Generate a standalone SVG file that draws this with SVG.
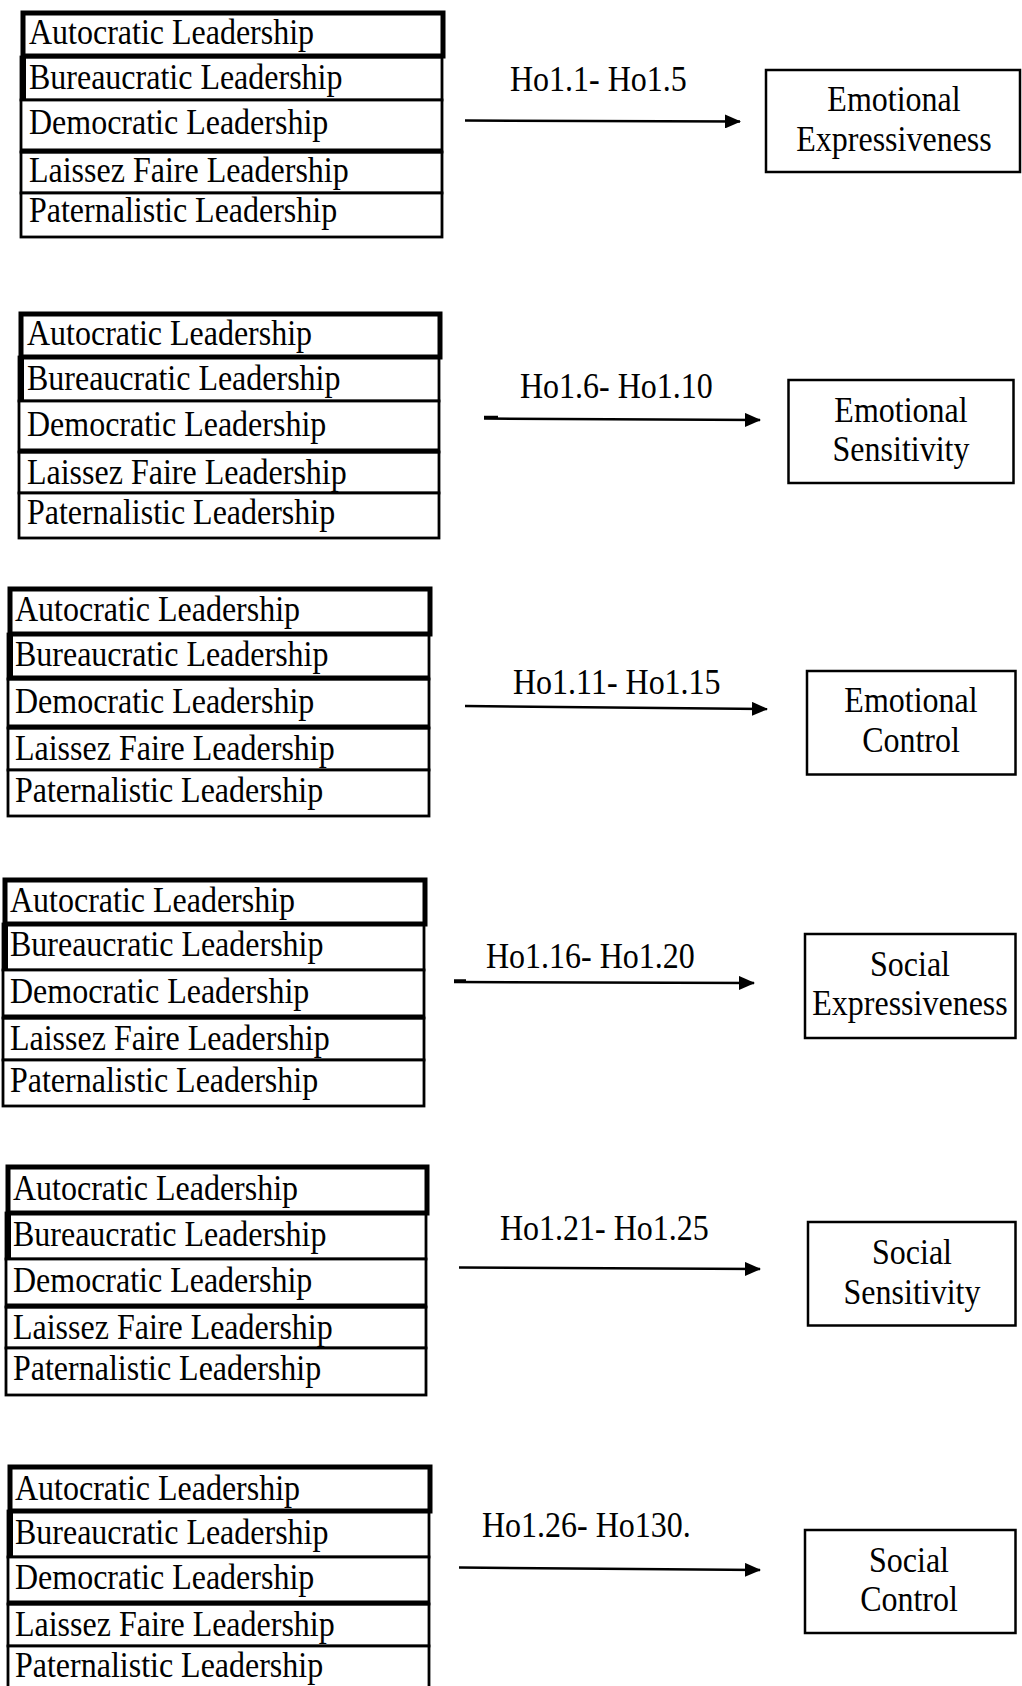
<svg xmlns="http://www.w3.org/2000/svg" width="1022" height="1686" viewBox="0 0 1022 1686">
<style>
.t{font-family:"Liberation Serif","Times New Roman",serif;font-size:32px;fill:#000}
.m{text-anchor:middle}
.row{fill:#fff;stroke:#000;stroke-width:2.8}
.r1{fill:none;stroke:#000;stroke-width:5}
.thk{stroke:#000;stroke-width:5;fill:none}
.box{fill:#fff;stroke:#000;stroke-width:2.5}
.arr{stroke:#000;stroke-width:2.5;fill:none;marker-end:url(#ah)}
</style>
<defs>
<marker id="ah" markerUnits="userSpaceOnUse" markerWidth="16" markerHeight="14" refX="15" refY="7" orient="auto">
<path d="M0,0 L16,7 L0,14 Z" fill="#000"/>
</marker>
</defs>
<rect width="1022" height="1686" fill="#fff"/>

<g id="connectors">
<line class="arr" x1="465" y1="120.5" x2="740" y2="121.5"/>
<line x1="484" y1="417" x2="498" y2="417" stroke="#000" stroke-width="2.5"/>
<line class="arr" x1="484" y1="418.5" x2="760" y2="420"/>
<line class="arr" x1="465" y1="706" x2="767" y2="709"/>
<line x1="454" y1="980.5" x2="466" y2="980.5" stroke="#000" stroke-width="2.5"/>
<line class="arr" x1="454" y1="982" x2="754" y2="983"/>
<line class="arr" x1="459" y1="1267.5" x2="760" y2="1269"/>
<line class="arr" x1="459" y1="1567.5" x2="760" y2="1570"/>
</g>

<g id="leaders1">
<rect class="row" x="21" y="57" width="421" height="43"/>
<rect class="row" x="21" y="100" width="421" height="52"/>
<rect class="row" x="21" y="152" width="421" height="41"/>
<rect class="row" x="21" y="193" width="421" height="44"/>
<rect class="r1" x="23" y="13" width="420" height="43"/>
<line class="thk" x1="23.5" y1="56" x2="23.5" y2="101"/>
<line class="thk" x1="21" y1="151" x2="442" y2="151"/>
<text class="t" transform="translate(29,44) scale(1,1.15)">Autocratic Leadership</text>
<text class="t" transform="translate(29,89) scale(1,1.15)">Bureaucratic Leadership</text>
<text class="t" transform="translate(29,134) scale(1,1.15)">Democratic Leadership</text>
<text class="t" transform="translate(29,182) scale(1,1.15)">Laissez Faire Leadership</text>
<text class="t" transform="translate(29,222) scale(1,1.15)">Paternalistic Leadership</text>
</g>
<g id="label1"><text class="t" transform="translate(510,91) scale(1,1.15)">Ho1.1- Ho1.5</text></g>
<g id="outcome1">
<rect class="box" x="766" y="70" width="254" height="102"/>
<text class="t m" transform="translate(894,111) scale(1,1.15)">Emotional</text>
<text class="t m" transform="translate(894,151) scale(1,1.15)">Expressiveness</text>
</g>

<g id="leaders2">
<rect class="row" x="19" y="357" width="420" height="44"/>
<rect class="row" x="19" y="401" width="420" height="51"/>
<rect class="row" x="19" y="452" width="420" height="41"/>
<rect class="row" x="19" y="493" width="420" height="45"/>
<rect class="r1" x="21" y="314" width="419" height="43"/>
<line class="thk" x1="21.5" y1="356" x2="21.5" y2="402"/>
<line class="thk" x1="19" y1="451" x2="439" y2="451"/>
<text class="t" transform="translate(27,345) scale(1,1.15)">Autocratic Leadership</text>
<text class="t" transform="translate(27,390) scale(1,1.15)">Bureaucratic Leadership</text>
<text class="t" transform="translate(27,436) scale(1,1.15)">Democratic Leadership</text>
<text class="t" transform="translate(27,484) scale(1,1.15)">Laissez Faire Leadership</text>
<text class="t" transform="translate(27,524) scale(1,1.15)">Paternalistic Leadership</text>
</g>
<g id="label2"><text class="t" transform="translate(520,398) scale(1,1.15)">Ho1.6- Ho1.10</text></g>
<g id="outcome2">
<rect class="box" x="788.5" y="380" width="225" height="103"/>
<text class="t m" transform="translate(901,422) scale(1,1.15)">Emotional</text>
<text class="t m" transform="translate(901,461) scale(1,1.15)">Sensitivity</text>
</g>

<g id="leaders3">
<rect class="row" x="8" y="634" width="421" height="45"/>
<rect class="row" x="8" y="679" width="421" height="49"/>
<rect class="row" x="8" y="728" width="421" height="42"/>
<rect class="row" x="8" y="770" width="421" height="46"/>
<rect class="r1" x="10" y="589" width="420" height="45"/>
<line class="thk" x1="10.5" y1="633" x2="10.5" y2="680"/>
<line class="thk" x1="8" y1="678" x2="429" y2="678"/>
<line class="thk" x1="8" y1="727" x2="429" y2="727"/>
<text class="t" transform="translate(15,621) scale(1,1.15)">Autocratic Leadership</text>
<text class="t" transform="translate(15,666) scale(1,1.15)">Bureaucratic Leadership</text>
<text class="t" transform="translate(15,713) scale(1,1.15)">Democratic Leadership</text>
<text class="t" transform="translate(15,760) scale(1,1.15)">Laissez Faire Leadership</text>
<text class="t" transform="translate(15,802) scale(1,1.15)">Paternalistic Leadership</text>
</g>
<g id="label3"><text class="t" transform="translate(513,694) scale(1,1.15)">Ho1.11- Ho1.15</text></g>
<g id="outcome3">
<rect class="box" x="807" y="671" width="208.5" height="103.5"/>
<text class="t m" transform="translate(911,712) scale(1,1.15)">Emotional</text>
<text class="t m" transform="translate(911,752) scale(1,1.15)">Control</text>
</g>

<g id="leaders4">
<rect class="row" x="3" y="924" width="421" height="46"/>
<rect class="row" x="3" y="970" width="421" height="48"/>
<rect class="row" x="3" y="1018" width="421" height="42"/>
<rect class="row" x="3" y="1060" width="421" height="46"/>
<rect class="r1" x="5" y="880" width="420" height="44"/>
<line class="thk" x1="5.5" y1="923" x2="5.5" y2="971"/>
<line class="thk" x1="3" y1="1017" x2="424" y2="1017"/>
<text class="t" transform="translate(10,912) scale(1,1.15)">Autocratic Leadership</text>
<text class="t" transform="translate(10,956) scale(1,1.15)">Bureaucratic Leadership</text>
<text class="t" transform="translate(10,1003) scale(1,1.15)">Democratic Leadership</text>
<text class="t" transform="translate(10,1050) scale(1,1.15)">Laissez Faire Leadership</text>
<text class="t" transform="translate(10,1092) scale(1,1.15)">Paternalistic Leadership</text>
</g>
<g id="label4"><text class="t" transform="translate(486,968) scale(1,1.15)">Ho1.16- Ho1.20</text></g>
<g id="outcome4">
<rect class="box" x="805" y="934" width="210.5" height="104"/>
<text class="t m" transform="translate(910,976) scale(1,1.15)">Social</text>
<text class="t m" transform="translate(910,1015) scale(1,1.15)">Expressiveness</text>
</g>

<g id="leaders5">
<rect class="row" x="6" y="1213" width="420" height="46"/>
<rect class="row" x="6" y="1259" width="420" height="48"/>
<rect class="row" x="6" y="1307" width="420" height="41"/>
<rect class="row" x="6" y="1348" width="420" height="47"/>
<rect class="r1" x="8" y="1167" width="419" height="46"/>
<line class="thk" x1="8.5" y1="1212" x2="8.5" y2="1260"/>
<line class="thk" x1="6" y1="1306" x2="426" y2="1306"/>
<text class="t" transform="translate(13,1200) scale(1,1.15)">Autocratic Leadership</text>
<text class="t" transform="translate(13,1246) scale(1,1.15)">Bureaucratic Leadership</text>
<text class="t" transform="translate(13,1292) scale(1,1.15)">Democratic Leadership</text>
<text class="t" transform="translate(13,1339) scale(1,1.15)">Laissez Faire Leadership</text>
<text class="t" transform="translate(13,1380) scale(1,1.15)">Paternalistic Leadership</text>
</g>
<g id="label5"><text class="t" transform="translate(500,1240) scale(1,1.15)">Ho1.21- Ho1.25</text></g>
<g id="outcome5">
<rect class="box" x="808" y="1222" width="207.5" height="103.5"/>
<text class="t m" transform="translate(912,1264) scale(1,1.15)">Social</text>
<text class="t m" transform="translate(912,1304) scale(1,1.15)">Sensitivity</text>
</g>

<g id="leaders6">
<rect class="row" x="8" y="1511" width="421" height="46"/>
<rect class="row" x="8" y="1557" width="421" height="47"/>
<rect class="row" x="8" y="1604" width="421" height="42"/>
<rect class="row" x="8" y="1646" width="421" height="46"/>
<rect class="r1" x="10" y="1467" width="420" height="44"/>
<line class="thk" x1="10.5" y1="1510" x2="10.5" y2="1558"/>
<line class="thk" x1="8" y1="1603" x2="429" y2="1603"/>
<text class="t" transform="translate(15,1500) scale(1,1.15)">Autocratic Leadership</text>
<text class="t" transform="translate(15,1544) scale(1,1.15)">Bureaucratic Leadership</text>
<text class="t" transform="translate(15,1589) scale(1,1.15)">Democratic Leadership</text>
<text class="t" transform="translate(15,1636) scale(1,1.15)">Laissez Faire Leadership</text>
<text class="t" transform="translate(15,1677) scale(1,1.15)">Paternalistic Leadership</text>
</g>
<g id="label6"><text class="t" transform="translate(482,1537) scale(1,1.15)">Ho1.26- Ho130.</text></g>
<g id="outcome6">
<rect class="box" x="805" y="1530" width="210.5" height="103"/>
<text class="t m" transform="translate(909,1572) scale(1,1.15)">Social</text>
<text class="t m" transform="translate(909,1611) scale(1,1.15)">Control</text>
</g>
</svg>
